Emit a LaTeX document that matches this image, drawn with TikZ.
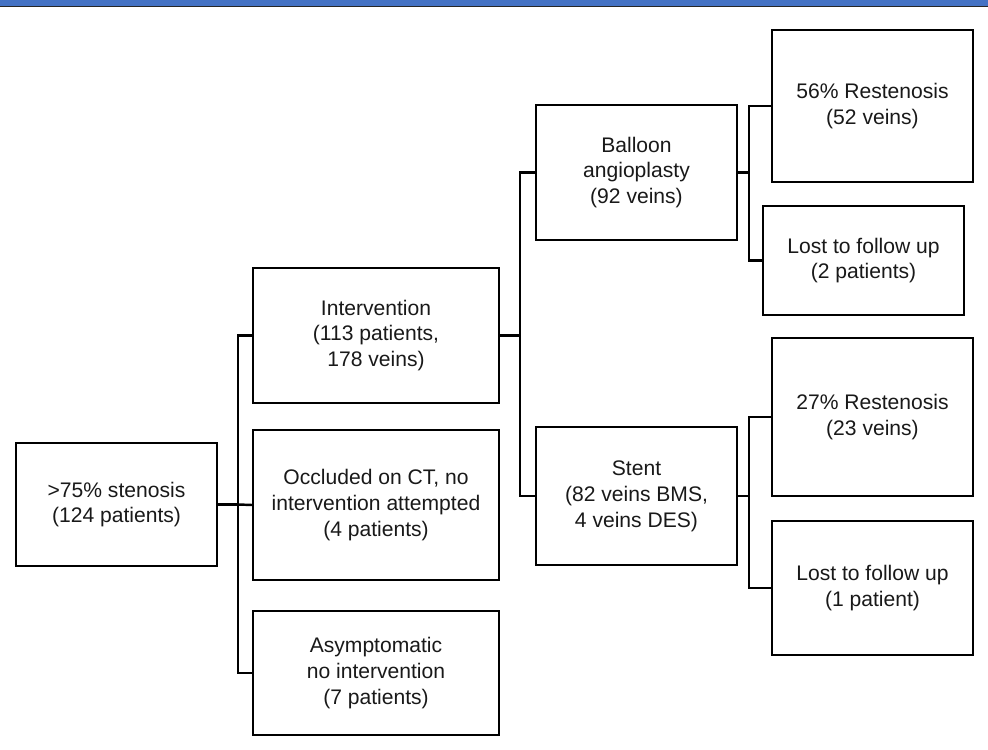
\documentclass[tikz,border=0pt]{standalone}
\usepackage{fontspec}
\setmainfont{Liberation Sans}
\usetikzlibrary{positioning,calc}

\begin{document}
\begin{tikzpicture}[
  x=0.02cm, y=-0.02cm,
  box/.style={draw=black,line width=1.1pt,rectangle,align=center,inner sep=2pt,
    text=black!90,font=\fontsize{12}{14.7}\selectfont,minimum width=4.02cm},
  wide box/.style={box,minimum width=4.92cm},
  link/.style={draw=black,line width=1.4pt},
]
  \colorlet{bar blue}{rgb,255:red,68;green,114;blue,196}
  \useasboundingbox (0,0) rectangle (988,750);
  \fill[bar blue] (0,0) rectangle (988,6);
  \draw[black!85,line width=0.8pt] (0,6.5) -- (988,6.5);

  % first level
  \node[box,minimum height=2.46cm] (root) at (116.5,504.5) {>75\% stenosis\\(124 patients)};
  \node[wide box,minimum height=2.7cm] (interv) at (376,335.5) {Intervention\\(113 patients,\\178 veins)};
  \node[wide box,minimum height=3cm] (occl) at (376,505) {Occluded on CT, no\\intervention attempted\\(4 patients)};
  \node[wide box,minimum height=2.48cm] (asym) at (376,673) {Asymptomatic\\no intervention\\(7 patients)};

  % second level
  \node[box,minimum height=2.7cm] (ball) at (636.5,172.5) {Balloon\\angioplasty\\(92 veins)};
  \node[box,minimum height=2.76cm] (stent) at (636.5,496) {Stent\\(82 veins BMS,\\4 veins DES)};

  % outcomes
  \node[box,minimum height=3.04cm] (rest56) at (872.5,106) {56\% Restenosis\\(52 veins)};
  \node[box,minimum height=2.18cm] (lost2) at (863.5,260.5) {Lost to follow up\\(2 patients)};
  \node[box,minimum height=3.16cm] (rest27) at (872.5,417) {27\% Restenosis\\(23 veins)};
  \node[box,minimum height=2.68cm] (lost1) at (872.5,588) {Lost to follow up\\(1 patient)};

  \coordinate (t1) at (238,504.5);
  \coordinate (t2) at (520,335.5);
  \coordinate (t3) at (749,172.5);
  \coordinate (t4) at (749,496);

  \draw[link] (root.east) -- (t1);
  \draw[link] (interv.west) -| (t1) |- (asym.west);
  \draw[link] (occl.west) -- (t1);

  \draw[link] (interv.east) -- (t2);
  \draw[link] (ball.west) -| (t2) |- (stent.west);

  \draw[link] (ball.east) -- (t3);
  \draw[link] (rest56.west) -| (t3) |- (lost2.west);

  \draw[link] (stent.east) -- (t4);
  \draw[link] (rest27.west) -| (t4) |- (lost1.west);
\end{tikzpicture}
\end{document}
